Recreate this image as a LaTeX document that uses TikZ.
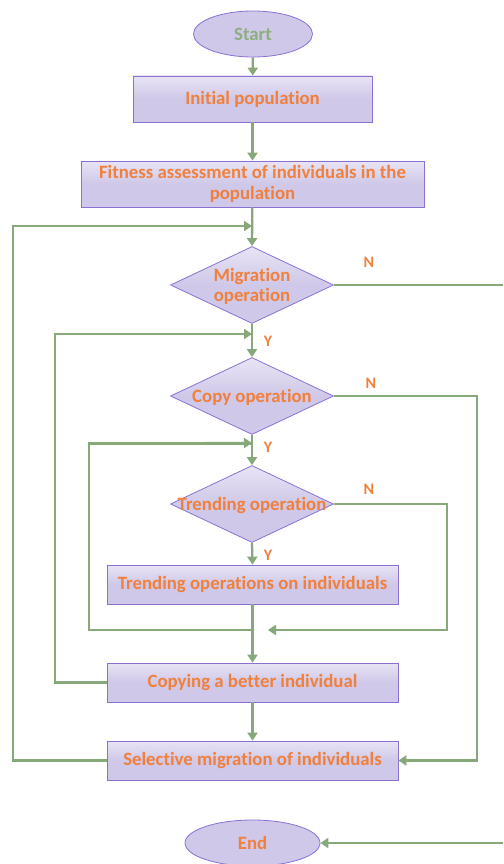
\documentclass[tikz,border=0pt]{standalone}
\usepackage{fontspec}
\setmainfont{Carlito}[Ligatures=NoCommon]
\usetikzlibrary{shapes.geometric,arrows.meta}
\definecolor{boxfill}{HTML}{CFC8E8}
\definecolor{boxtop}{HTML}{E8E4F5}
\definecolor{boxline}{HTML}{8B70D4}
\definecolor{txt}{HTML}{F0803C}
\definecolor{conn}{HTML}{87A878}
\definecolor{starttxt}{HTML}{8FAE80}
\tikzset{
  procbox/.style={draw=boxline, line width=0.8pt, top color=boxtop, bottom color=boxfill, middle color=boxfill, shading angle=0,
    inner sep=0pt, align=center, font=\bfseries\fontsize{18.8}{20.5}\selectfont, text=txt},
  term/.style={ellipse, draw=boxline, line width=0.8pt, fill=boxfill, inner sep=0pt,
    font=\bfseries\fontsize{18.8}{20}\selectfont},
  decision/.style={diamond, draw=boxline, line width=0.8pt, top color=boxtop, bottom color=boxfill, middle color=boxfill,
    inner sep=0pt, minimum width=163pt, minimum height=77pt, aspect=2.1},
  dtext/.style={font=\bfseries\fontsize{18.8}{20.5}\selectfont, text=txt, align=center},
  yn/.style={font=\bfseries\fontsize{16}{18}\selectfont, text=txt},
  flow/.style={draw=conn, line width=2.3pt, -{Triangle[length=8pt,width=10pt]}},
  flowline/.style={draw=conn, line width=2.3pt}
}
\begin{document}
\begin{tikzpicture}[x=1pt,y=-1pt]
\useasboundingbox (0,0) rectangle (503,864);
% nodes
\node[term, minimum width=119pt, minimum height=46pt, text=starttxt] (start) at (253,34) {Start};
\node[procbox, minimum width=239pt, minimum height=46pt] (init) at (252.5,99) {Initial population};
\node[procbox, minimum width=343pt, minimum height=46pt] (fit) at (252.5,184) {Fitness assessment of individuals in the\\population};
\node[decision] (mig) at (252,285) {};
\node[dtext] at ([yshift=-1.5pt]mig.center) {Migration\\operation};
\node[decision] (copy) at (252,396) {};
\node[dtext] at ([yshift=-1.5pt]copy.center) {Copy operation};
\node[decision] (trend) at (252,504) {};
\node[dtext] at ([yshift=-1.5pt]trend.center) {Trending operation};
\node[procbox, minimum width=291pt, minimum height=39pt] (trbox) at (252.5,584.5) {Trending operations on individuals};
\node[procbox, minimum width=291pt, minimum height=39pt] (cpbox) at (252.5,682.5) {Copying a better individual};
\node[procbox, minimum width=291pt, minimum height=39pt] (sel) at (252.5,760.5) {Selective migration of individuals};
\node[term, minimum width=135pt, minimum height=46pt, text=txt] (end) at (252.5,843) {End};
% labels
\node[yn] (n1) at (369,262) {N};
\node[yn] (y1) at (268,341) {Y};
\node[yn] (n2) at (371,383) {N};
\node[yn] (y2) at (268,447) {Y};
\node[yn] (n3) at (369,489) {N};
\node[yn] (y3) at (268,555) {Y};
% coordinates
\coordinate (j1) at (253,226);
\coordinate (j2) at (253,334);
\coordinate (j3) at (253,443);
\coordinate (j4) at (253,630);
\coordinate (j5) at (268,630);
\coordinate (exitR) at (503,285);
\coordinate (enterR) at (503,843);
% main flow
\draw[flow] (start) -- (init);
\draw[flow] (init) -- (fit);
\draw[flow] (fit) -- (mig.north);
\draw[flow] (mig.south) -- (copy.north);
\draw[flow] (copy.south) -- (trend.north);
\draw[flow] (trend.south) -- (trbox.north);
\draw[flow] (trbox.south) -- (cpbox.north);
\draw[flow] (cpbox) -- (sel);
% loops back
\draw[flow] (sel.west) -- (13,760.5) -- (13,226) -- ([xshift=-1pt]j1);
\draw[flow] (cpbox.west) -- (55,682.5) -- (55,334) -- ([xshift=-1pt]j2);
\draw[flowline] (j4) -- (89,630) -- (89,443.5) -- (253,443.5);
\draw[flow] (89,443.5) -- ([xshift=-1pt]j3);
% N branches
\draw[flowline] (mig.east) -- (exitR);
\draw[flow] (enterR) -- (end.east);
\draw[flow] (copy.east) -- (477,396) -- (477,760.5) -- (sel.east);
\draw[flow] (trend.east) -- (447,504) -- (447,630) -- (j5);
\end{tikzpicture}
\end{document}
